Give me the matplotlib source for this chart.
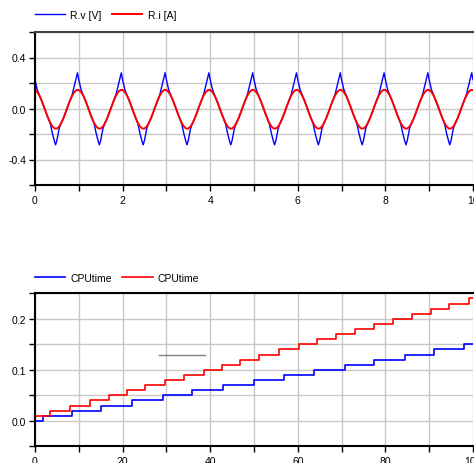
import numpy as np
import matplotlib
matplotlib.use("Agg")
import matplotlib.pyplot as plt
from matplotlib.ticker import MultipleLocator

plt.rcParams['font.family'] = ['Liberation Sans', 'DejaVu Sans']
plt.rcParams['font.size'] = 7.5

#%% data, top chart (one period, signal repeats every 1 s)
n_periods = 10
red_phase = [0.00, 0.05, 0.10, 0.15, 0.20, 0.25, 0.30, 0.35, 0.40, 0.45,
             0.50, 0.55, 0.60, 0.65, 0.70, 0.75, 0.80, 0.85, 0.90, 0.95]
red_vals = [0.145, 0.130, 0.102, 0.063, 0.018, -0.030, -0.075, -0.114, -0.142, -0.157,
            -0.157, -0.142, -0.114, -0.075, -0.030, 0.018, 0.063, 0.102, 0.130, 0.145]
blue_phase = [0.00, 0.05, 0.10, 0.15, 0.20, 0.25, 0.30, 0.35, 0.40, 0.45, 0.47,
              0.50, 0.55, 0.60, 0.65, 0.70, 0.75, 0.80, 0.85, 0.90, 0.95, 0.97]
blue_vals = [0.225, 0.150, 0.105, 0.063, 0.018, -0.030, -0.075, -0.120, -0.200, -0.265, -0.285,
             -0.250, -0.160, -0.110, -0.075, -0.030, 0.018, 0.063, 0.110, 0.180, 0.250, 0.280]

#%% data, bottom chart (step signals)
red_t = [0, 3.4, 7.9, 12.5, 16.8, 21, 25.2, 29.7, 34, 38.5, 42.8, 46.9, 51.2,
         55.6, 60.2, 64.4, 68.8, 73, 77.4, 81.7, 86.1, 90.4, 94.6, 99, 100]
red_cpu = [0.01, 0.02, 0.03, 0.04, 0.05, 0.06, 0.07, 0.08, 0.09, 0.10, 0.11, 0.12,
           0.13, 0.14, 0.15, 0.16, 0.17, 0.18, 0.19, 0.20, 0.21, 0.22, 0.23, 0.24, 0.24]
blue_t = [0, 1.8, 8.4, 15.1, 22.2, 29.2, 35.9, 43, 49.9, 56.8, 63.7, 70.7, 77.4, 84.5, 91, 98, 100]
blue_cpu = [0.00, 0.01, 0.02, 0.03, 0.04, 0.05, 0.06, 0.07, 0.08, 0.09, 0.10, 0.11,
            0.12, 0.13, 0.14, 0.15, 0.15]
grey_x = [28.2, 38.8]
grey_y = [0.129, 0.129]

#%% build the periodic traces
t_red = np.concatenate([np.array(red_phase) + k for k in range(n_periods)] + [[n_periods]])
v_red = np.concatenate([red_vals] * n_periods + [[red_vals[0]]])
t_blue = np.concatenate([np.array(blue_phase) + k for k in range(n_periods)] + [[n_periods]])
v_blue = np.concatenate([blue_vals] * n_periods + [[blue_vals[0]]])

W, H = 474, 464
fig = plt.figure(figsize=(W / 100, H / 100), dpi=100)
ax1 = fig.add_axes([35 / W, 1 - 186 / H, 438 / W, 153 / H])
ax2 = fig.add_axes([35 / W, 1 - 447.3 / H, 438 / W, 153 / H])

def style(ax, top_color):
    ax.grid(True, which='both', color='#c8c8c8', lw=1.0)
    ax.set_axisbelow(True)
    ax.spines['right'].set_visible(False)
    ax.spines['left'].set_linewidth(1.5)
    ax.spines['bottom'].set_linewidth(1.5)
    ax.spines['top'].set_linewidth(1.5)
    ax.spines['top'].set_color(top_color)
    ax.tick_params(which='both', direction='out', length=4, width=1.0, colors='black')
    ax.tick_params(axis='y', pad=2.5)
    ax.tick_params(axis='x', pad=3)
    ax.tick_params(which='minor', length=4)

ax1.plot(t_blue, v_blue, color='#0000ff', lw=1.0, label='R.v [V]')
ax1.plot(t_red, v_red, color='#ff0000', lw=1.4, label='R.i [A]')
ax1.set_xlim(0, 10)
ax1.set_ylim(-0.6, 0.6)
ax1.xaxis.set_major_locator(MultipleLocator(2))
ax1.xaxis.set_minor_locator(MultipleLocator(1))
ax1.yaxis.set_major_locator(MultipleLocator(0.4))
ax1.yaxis.set_minor_locator(MultipleLocator(0.2))
ax1.set_xticks([0, 2, 4, 6, 8, 10], ['0', '2', '4', '6', '8', '10'])
ax1.set_yticks([-0.4, 0.0, 0.4], ['-0.4', '0.0', '0.4'])
style(ax1, '#404040')
ax1.legend(loc='center left', bbox_to_anchor=(0, 1 + 17 / 153), ncol=2, frameon=False,
           borderpad=0, borderaxespad=0, handlelength=2.9, handletextpad=0.5, columnspacing=1.0)

ax2.step(blue_t, blue_cpu, where='post', color='#0000ff', lw=1.2, label='CPUtime')
ax2.step(red_t, red_cpu, where='post', color='#ff0000', lw=1.2, label='CPUtime')
ax2.plot(grey_x, grey_y, color='#808080', lw=1.0)
ax2.set_xlim(0, 100)
ax2.set_ylim(-0.05, 0.25)
ax2.xaxis.set_major_locator(MultipleLocator(20))
ax2.xaxis.set_minor_locator(MultipleLocator(10))
ax2.yaxis.set_minor_locator(MultipleLocator(0.05))
ax2.set_yticks([0.0, 0.1, 0.2], ['0.0', '0.1', '0.2'])
style(ax2, 'black')
ax2.legend(loc='center left', bbox_to_anchor=(0, 1 + 15.3 / 153), ncol=2, frameon=False,
           borderpad=0, borderaxespad=0, handlelength=2.9, handletextpad=0.5, columnspacing=1.0)

fig.savefig('out.png', dpi=100)
